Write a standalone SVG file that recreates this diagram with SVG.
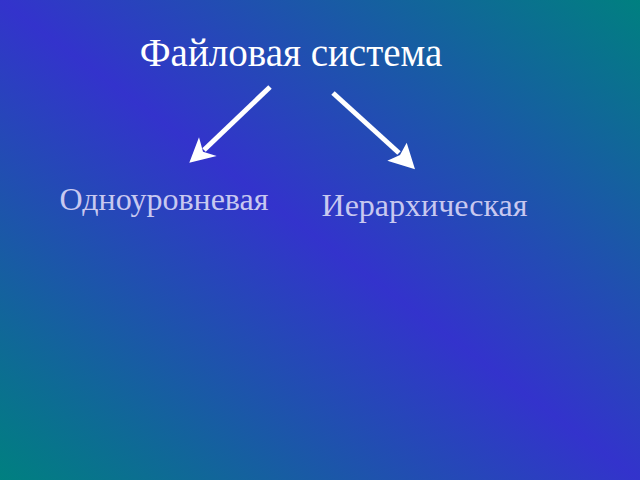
<svg xmlns="http://www.w3.org/2000/svg" width="640" height="480" viewBox="0 0 640 480">
<defs>
<linearGradient id="bg" x1="1" y1="0" x2="0" y2="1">
<stop offset="0" stop-color="#008080"/>
<stop offset="0.5" stop-color="#3333CC"/>
<stop offset="1" stop-color="#008080"/>
</linearGradient>
<style>
.title{font-family:"Liberation Serif","Times New Roman",serif;font-size:39px;fill:#FFFFFF}
.sub{font-family:"Liberation Serif","Times New Roman",serif;font-size:32px;fill:#C8C8F0}
.ln{stroke:#FFFFFF;stroke-width:5;fill:none}
.head{fill:#FFFFFF}
</style>
</defs>
<rect x="0" y="0" width="640" height="480" fill="url(#bg)"/>
<g id="title"><text class="title" x="291" y="66" text-anchor="middle">Файловая система</text></g>
<g id="flat"><text class="sub" x="164" y="210" text-anchor="middle">Одноуровневая</text></g>
<g id="hier"><text class="sub" x="424.5" y="216" text-anchor="middle">Иерархическая</text></g>
<g id="connectors">
<line class="ln" x1="270" y1="87" x2="204" y2="150"/>
<polygon class="head" points="189.3,162.7 199,137.3 203,151.7 216.7,156"/>
<line class="ln" x1="333" y1="93" x2="399" y2="153"/>
<polygon class="head" points="415,169.3 406.7,142.7 400,155 387.3,160.7"/>
</g>
</svg>
